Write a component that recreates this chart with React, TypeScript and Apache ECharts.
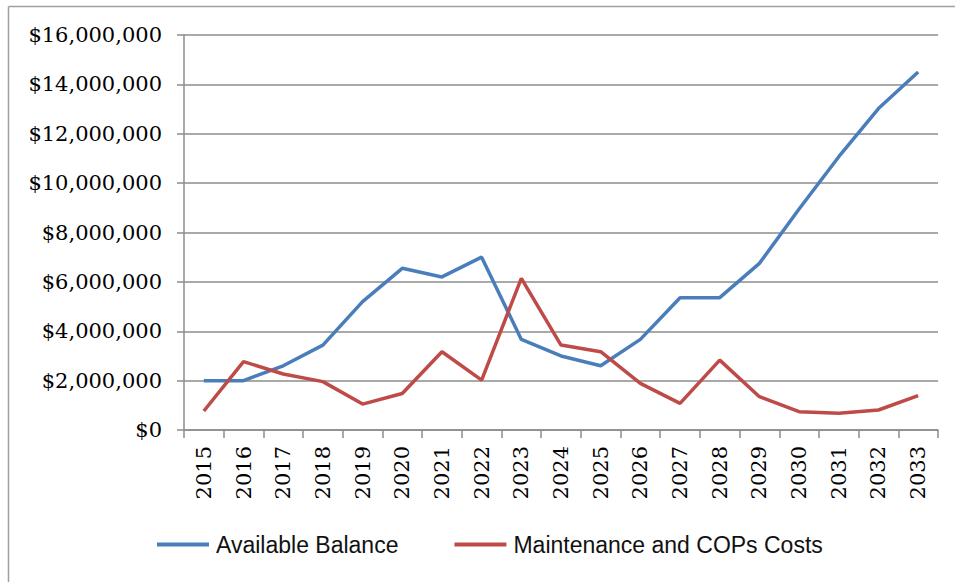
import React, { useEffect, useRef } from "react";
import * as echarts from "echarts";

const years = [
  "2015", "2016", "2017", "2018", "2019", "2020", "2021", "2022", "2023", "2024",
  "2025", "2026", "2027", "2028", "2029", "2030", "2031", "2032", "2033",
];

const availableBalance = [
  2000000, 2000000, 2600000, 3440000, 5200000, 6550000, 6200000, 7000000, 3670000, 3000000,
  2600000, 3670000, 5360000, 5360000, 6750000, 8950000, 11070000, 13020000, 14500000,
];

const maintenanceCosts = [
  770000, 2770000, 2270000, 1960000, 1050000, 1480000, 3170000, 2020000, 6140000, 3440000,
  3170000, 1890000, 1080000, 2830000, 1350000, 740000, 680000, 810000, 1390000,
];

const yTicks = { min: 0, max: 16000000, interval: 2000000 };

const fmtMoney = (v: number) => "$" + v.toLocaleString("en-US");

export default function App() {
  const ref = useRef<HTMLDivElement>(null);

  useEffect(() => {
    if (!ref.current) return;
    const chart = echarts.init(ref.current, undefined, { renderer: "svg" });
    chart.setOption({
      animation: false,
      backgroundColor: "#ffffff",
      grid: { left: 184, top: 35, right: 17, bottom: 152 },
      graphic: [
        {
          type: "line",
          shape: { x1: 8.5, y1: 6.5, x2: 955, y2: 6.5 },
          style: { stroke: "#a0a0a0", lineWidth: 1.5 },
        },
        {
          type: "line",
          shape: { x1: 8.5, y1: 6.5, x2: 8.5, y2: 582 },
          style: { stroke: "#a0a0a0", lineWidth: 1.5 },
        },
      ],
      legend: {
        left: 157,
        top: 533,
        padding: 0,
        icon: "rect",
        itemWidth: 52,
        itemHeight: 4,
        itemGap: 56,
        textStyle: {
          fontFamily: "Liberation Sans",
          fontSize: 23,
          color: "#111",
          padding: [0, 0, 0, 2],
        },
        data: ["Available Balance", "Maintenance and COPs Costs"],
      },
      xAxis: {
        type: "category",
        data: years,
        boundaryGap: true,
        axisLine: { lineStyle: { color: "#8c8c8c", width: 1.5 } },
        axisTick: {
          show: true,
          length: 8,
          inside: false,
          alignWithLabel: false,
          lineStyle: { color: "#8c8c8c", width: 1.5 },
        },
        axisLabel: {
          rotate: 90,
          margin: 16,
          interval: 0,
          fontFamily: "DejaVu Serif",
          fontSize: 21,
          color: "#000",
        },
      },
      yAxis: {
        type: "value",
        min: yTicks.min,
        max: yTicks.max,
        interval: yTicks.interval,
        axisLine: { show: true, lineStyle: { color: "#8c8c8c", width: 1.5 } },
        axisTick: { show: true, length: 7, lineStyle: { color: "#8c8c8c", width: 1.5 } },
        splitLine: { lineStyle: { color: "#8c8c8c", width: 1.5 } },
        axisLabel: {
          margin: 22,
          fontFamily: "DejaVu Serif",
          fontSize: 21,
          color: "#000",
          formatter: (v: number) => fmtMoney(v),
        },
      },
      series: [
        {
          name: "Available Balance",
          type: "line",
          data: availableBalance,
          symbol: "none",
          lineStyle: { color: "#4a7ebb", width: 3.5 },
          itemStyle: { color: "#4a7ebb" },
        },
        {
          name: "Maintenance and COPs Costs",
          type: "line",
          data: maintenanceCosts,
          symbol: "none",
          lineStyle: { color: "#be4b48", width: 3.5 },
          itemStyle: { color: "#be4b48" },
        },
      ],
    });
    return () => chart.dispose();
  }, []);

  return (
    <div
      ref={ref}
      style={{ position: "fixed", left: 0, top: 0, width: 955, height: 582, background: "#fff" }}
    />
  );
}
